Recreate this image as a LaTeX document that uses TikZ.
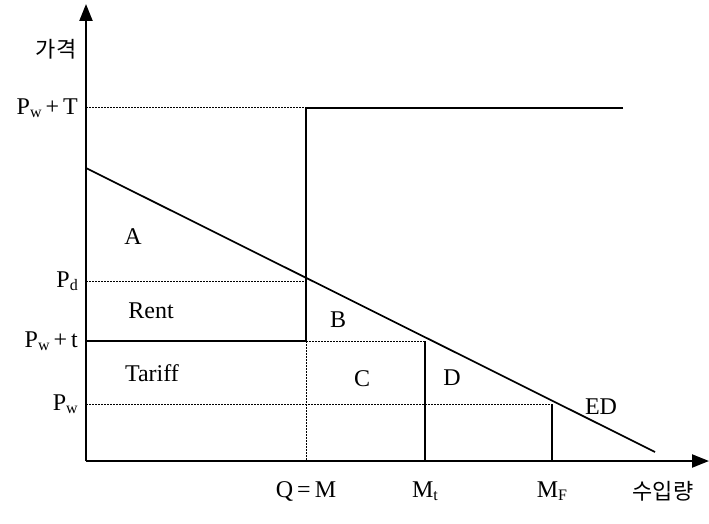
\documentclass[tikz,border=0pt]{standalone}
\usepackage{fontspec}
\setmainfont{Liberation Serif}
\newfontfamily\kr{Noto Sans CJK KR}
\usetikzlibrary{arrows.meta}
\newcommand{\lsub}[1]{\raisebox{-0.3ex}{\fontsize{16pt}{16pt}\selectfont #1}}
\begin{document}
\begin{tikzpicture}[x=1pt,y=-1pt,
  axis/.style={line width=2.2pt,-{Triangle[length=17pt,width=13pt]}},
  curve/.style={line width=1.7pt},
  guide/.style={line width=1pt,dash pattern=on 1.5pt off 1.5pt},
  lbl/.style={font=\fontsize{24pt}{26pt}\selectfont,inner sep=0pt},
  ylbl/.style={lbl,anchor=east},
  xlbl/.style={lbl,anchor=center}]
\useasboundingbox (0,0) rectangle (709,524);
% key coordinates
\coordinate (O) at (86,461);
\coordinate (ytop) at (86,4);
\coordinate (xend) at (709,461);
\coordinate (yT) at (86,108);
\coordinate (yd) at (86,281);
\coordinate (yt) at (86,341);
\coordinate (yw) at (86,404);
\coordinate (QT) at (306,108);
\coordinate (Qd) at (306,281);
\coordinate (Qt) at (306,341);
\coordinate (Q0) at (306,461);
\coordinate (Tend) at (623,108);
\coordinate (Mtt) at (425,341);
\coordinate (Mt0) at (425,461);
\coordinate (MFw) at (552,404);
\coordinate (MF0) at (552,461);
\coordinate (EDs) at (86,168);
\coordinate (EDe) at (655,452);
% axes
\draw[axis] (O) -- (ytop);
\draw[axis] (O) -- (xend);
% guides
\draw[guide] (yT) -- (QT);
\draw[guide] (yd) -- (Qd);
\draw[guide] (Qt) -- (Mtt);
\draw[guide] (yw) -- (MFw);
\draw[guide] (Qt) -- (Q0);
% curves
\draw[curve] (Tend) -- (QT) -- (Qt) -- (yt);
\draw[curve] (EDs) -- (EDe);
\draw[curve] (Mtt) -- (Mt0);
\draw[curve] (MFw) -- (MF0);
% axis labels
\node[lbl,font=\kr\fontsize{22pt}{24pt}\selectfont] (price) at (56,49) {가격};
\node[lbl,font=\kr\fontsize{22pt}{24pt}\selectfont] (qty) at (663,491) {수입량};
\node[ylbl] (lT) at (78,108) {P\lsub{w}\,+\,T};
\node[ylbl] (ld) at (78,281) {P\lsub{d}};
\node[ylbl] (lt) at (78,341) {P\lsub{w}\,+\,t};
\node[ylbl] (lw) at (78,404) {P\lsub{w}};
\node[xlbl] (lQ) at (306,491) {Q\,=\,M};
\node[xlbl] (lMt) at (425,491) {M\lsub{t}};
\node[xlbl] (lMF) at (552,491) {M\lsub{F}};
% area labels
\node[lbl] (A) at (133,237) {A};
\node[lbl] (Rent) at (151,311) {Rent};
\node[lbl] (Tariff) at (152,373) {Tariff};
\node[lbl] (B) at (338,320) {B};
\node[lbl] (C) at (362,379) {C};
\node[lbl] (D) at (452,378) {D};
\node[lbl] (ED) at (601,407) {ED};
\end{tikzpicture}
\end{document}
